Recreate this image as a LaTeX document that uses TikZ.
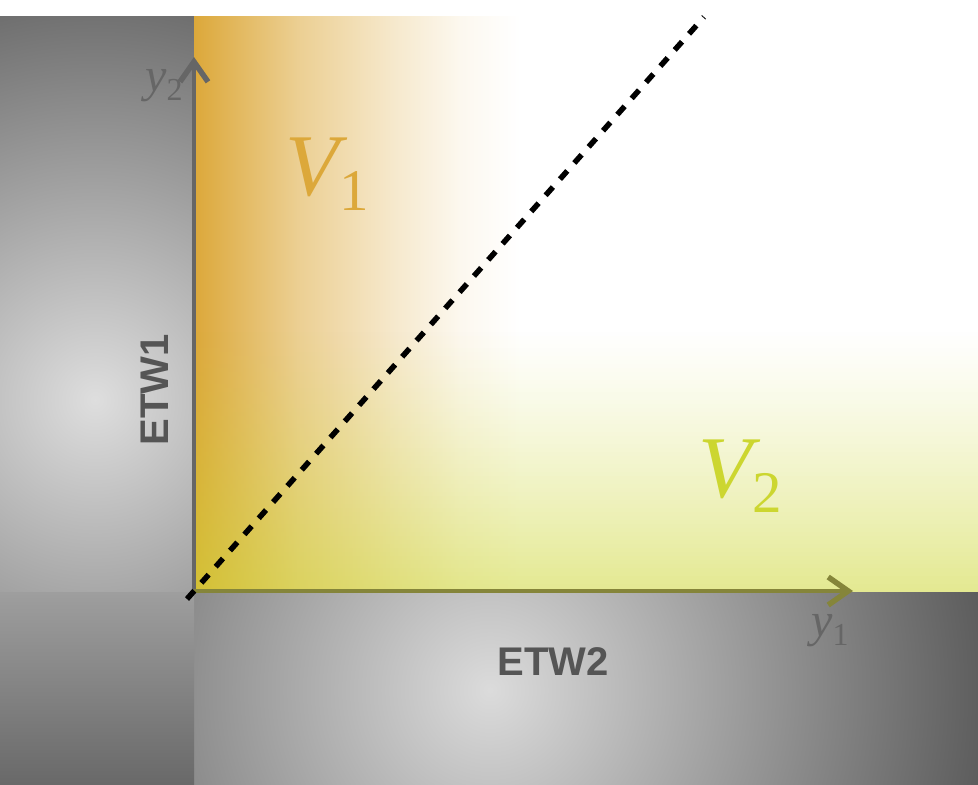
\documentclass[tikz,border=0pt]{standalone}
\usepackage{fontspec}
\setmainfont{Liberation Serif}
\newfontfamily\etwfont{Liberation Sans}
\usetikzlibrary{arrows.meta}
\definecolor{orangeV}{HTML}{DCA83A}
\definecolor{yellowV}{HTML}{CCD630}
\definecolor{axisgray}{HTML}{666666}
\definecolor{axisolive}{HTML}{85853A}
\definecolor{labelgray}{HTML}{555555}
\pgfdeclarehorizontalshading{orangefade}{100bp}{color(0bp)=(orangeV); color(25bp)=(orangeV); color(41bp)=(orangeV!55!white); color(56bp)=(orangeV!25!white); color(66bp)=(orangeV!8!white); color(75bp)=(white); color(100bp)=(white)}
\tikzset{
  axisline/.style={line width=4pt, -{Straight Barb[length=20pt,width=28pt,line width=5.5pt]}},
  etw/.style={text=labelgray, inner sep=0pt, font=\etwfont\bfseries\fontsize{40}{40}\selectfont},
  ylab/.style={text=axisgray, inner sep=0pt, anchor=base west},
  vlab/.style={inner sep=0pt, anchor=base west},
  diag/.style={black, line width=5.5pt, dash pattern=on 11pt off 10.6pt}
}
\newcommand\bigV[1]{{\fontsize{88}{88}\selectfont\itshape V}\kern1pt\raisebox{-15pt}{\fontsize{59}{59}\selectfont #1}}
\newcommand\smally[1]{{\fontsize{48}{48}\selectfont\itshape y}\raisebox{-9pt}{\fontsize{32}{32}\selectfont #1}}
\begin{document}
\begin{tikzpicture}[x=1pt,y=-1pt]
\useasboundingbox (0,0) rectangle (978,785);
\fill[white] (0,0) rectangle (978,785);
% left gray panel
\begin{scope}
  \clip (0,16) rectangle (194,592);
  \shade[inner color=black!13, outer color=black!57] (95,400) circle (400);
\end{scope}
% bottom gray panel
\begin{scope}
  \clip (194,592) rectangle (978,785);
  \shade[inner color=black!14, outer color=black!64] (490,690) circle (500);
\end{scope}
% bottom-left square
\shade[top color=black!38, bottom color=black!59] (0,592) rectangle (194,785);
% orange region
\shade[shading=orangefade] (194,16) rectangle (520,592);
% yellow region: opacity rising towards the y1 axis
\foreach \i in {0,...,65} {
  \fill[yellowV, fill opacity={0.53*((\i+0.5)/66)^1.2}] (194,{328+4*\i}) rectangle (978,{332+4*\i});
}
% coordinates
\coordinate (O) at (194,592);
\coordinate (Ytop) at (194,57);
\coordinate (Xend) at (853,591);
\coordinate (Xstart) at (194,591);
\coordinate (Dstart) at (187,599);
\coordinate (Dend) at (704,17);
% axes
\draw[axisline, axisgray] (O) -- (Ytop);
\draw[axisline, axisolive] (Xstart) -- (Xend);
% diagonal
\draw[diag] (Dstart) -- (Dend);
% labels
\node[ylab] (ly2) at (145,91) {\smally{2}};
\node[ylab] (ly1) at (811,636) {\smally{1}};
\node[vlab, text=orangeV] (v1) at (285,195) {\bigV{1}};
\node[vlab, text=yellowV] (v2) at (698,497) {\bigV{2}};
\node[etw, rotate=90] (etw1) at (155,390) {ETW1};
\node[etw] (etw2) at (553,662) {ETW2};
\end{tikzpicture}
\end{document}
